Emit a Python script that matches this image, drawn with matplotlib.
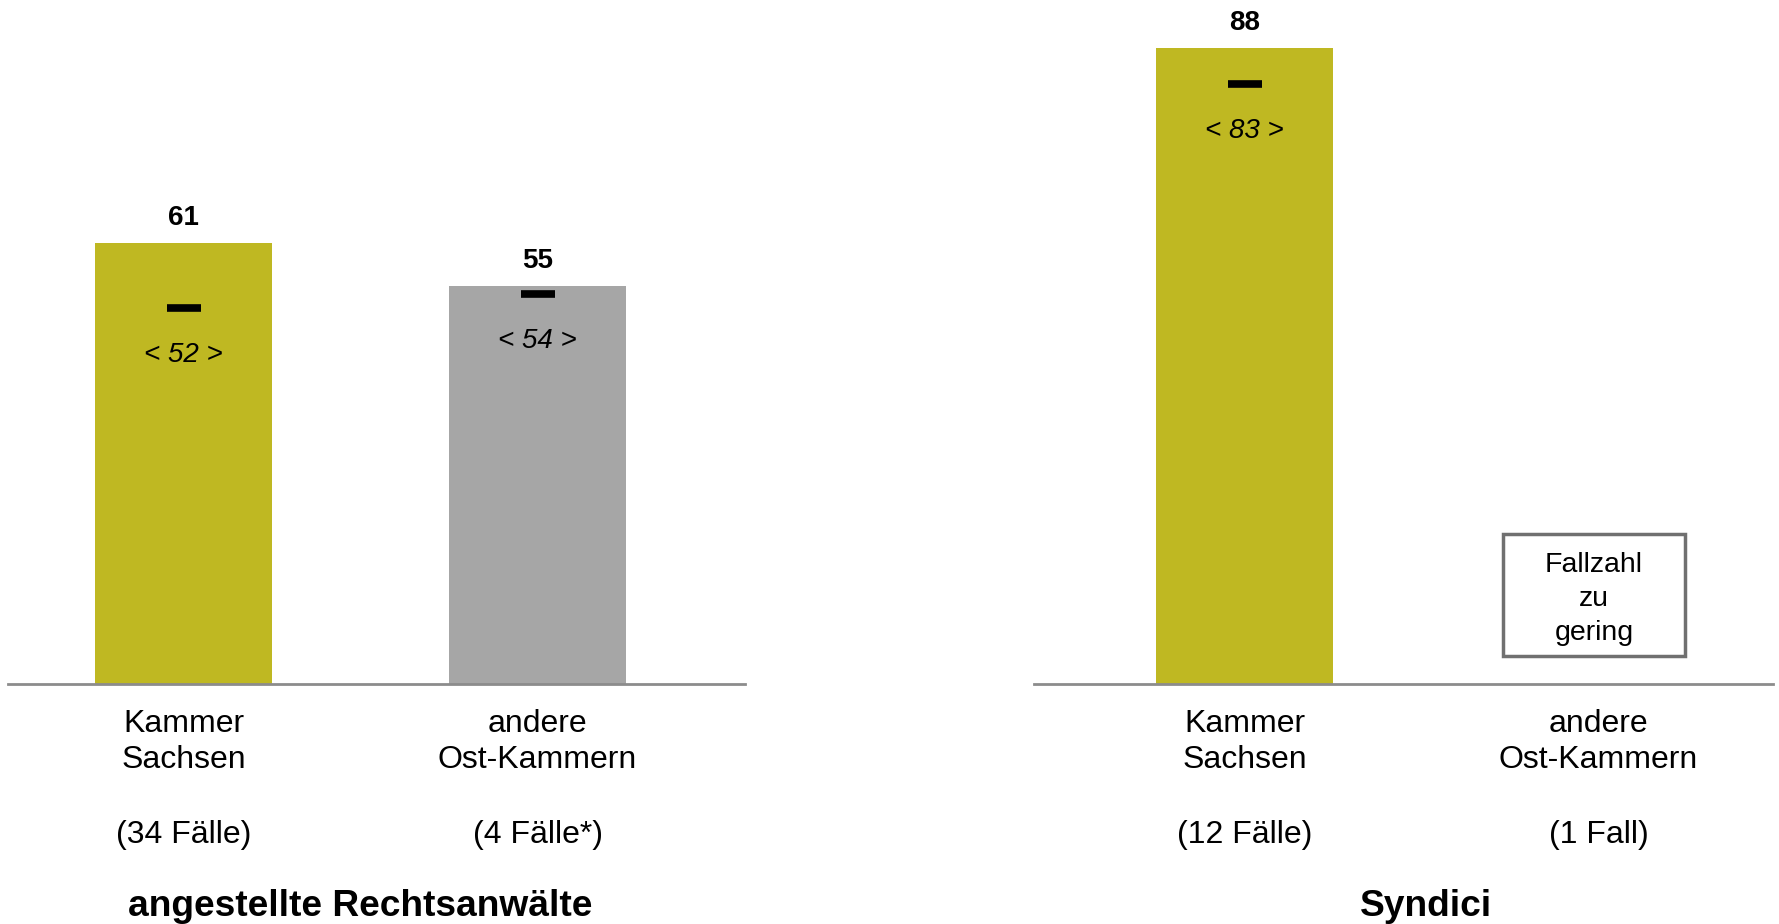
import numpy as np
import matplotlib
matplotlib.use('Agg')
import matplotlib.pyplot as plt
from matplotlib.patches import Rectangle
import matplotlib.transforms as mtransforms

plt.rcParams['font.family'] = ['Liberation Sans', 'DejaVu Sans']

# data
categories = ['Kammer\nSachsen', 'andere\nOst-Kammern']
ra_values = [61, 55]
ra_ref = [52, 54]
ra_cases = ['(34 Fälle)', '(4 Fälle*)']
ra_colors = ['#BFB822', '#A6A6A6']

syn_values = [88]
syn_ref = [83]
syn_cases = ['(12 Fälle)', '(1 Fall)']
syn_colors = ['#BFB822']

titles = ['angestellte Rechtsanwälte', 'Syndici']
note = 'Fallzahl\nzu\ngering'

W, H = 1779, 924
fig = plt.figure(figsize=(W / 100, H / 100), dpi=100)
ax1 = fig.add_axes([8 / W, 240 / H, 737 / W, 684 / H])
ax2 = fig.add_axes([1034 / W, 240 / H, 739 / W, 684 / H])

ymax = 94.6
axis_col = '#8C8C8C'


def draw(ax, values, refs, colors, cases, title, xlim, title_x=0.5):
    x = np.arange(len(values))
    ax.bar(x, values, width=0.5, color=colors, zorder=2)
    for xi, v, r in zip(x, values, refs):
        ax.annotate(str(v), (xi, v), xytext=(0, 18), textcoords='offset points',
                    ha='center', va='center', fontsize=20, fontweight='bold')
        ax.plot([xi], [r], marker='_', ms=24, mew=5.5, color='black', zorder=3)
        ax.annotate('< %d >' % r, (xi, r), xytext=(0, -34), textcoords='offset points',
                    ha='center', va='center', fontsize=20, style='italic')
    ax.set_xlim(*xlim)
    ax.set_ylim(0, ymax)
    for s in ['top', 'right', 'left']:
        ax.spines[s].set_visible(False)
    ax.spines['bottom'].set_color(axis_col)
    ax.spines['bottom'].set_linewidth(2)
    ax.set_xticks([])
    ax.set_yticks([])
    trans = mtransforms.blended_transform_factory(ax.transData, ax.transAxes)
    for i, (cat, c) in enumerate(zip(categories, cases)):
        ax.annotate(cat, (i, 0), xycoords=trans, xytext=(0, -42), textcoords='offset points',
                    ha='center', va='center', fontsize=23, linespacing=1.25)
        ax.annotate(c, (i, 0), xycoords=trans, xytext=(0, -109), textcoords='offset points',
                    ha='center', va='center', fontsize=23)
    ax.annotate(title, (title_x, 0), xycoords=trans, xytext=(0, -160.5), textcoords='offset points',
                ha='center', va='center', fontsize=26.7, fontweight='bold', annotation_clip=False)


draw(ax1, ra_values, ra_ref, ra_colors, ra_cases, titles[0], (-0.496, 1.586))
draw(ax2, syn_values, syn_ref, syn_colors, syn_cases, titles[1], (-0.595, 1.493), title_x=0.513)

# note box for the missing bar
ax2.add_patch(Rectangle((0.73, 3.9), 0.514, 16.85, facecolor='white',
                        edgecolor='#707070', lw=2.5, zorder=3))
ax2.text(0.987, 11.8, note, ha='center', va='center', fontsize=20.5,
         linespacing=1.4, zorder=4)

fig.savefig('out.png', dpi=100)
